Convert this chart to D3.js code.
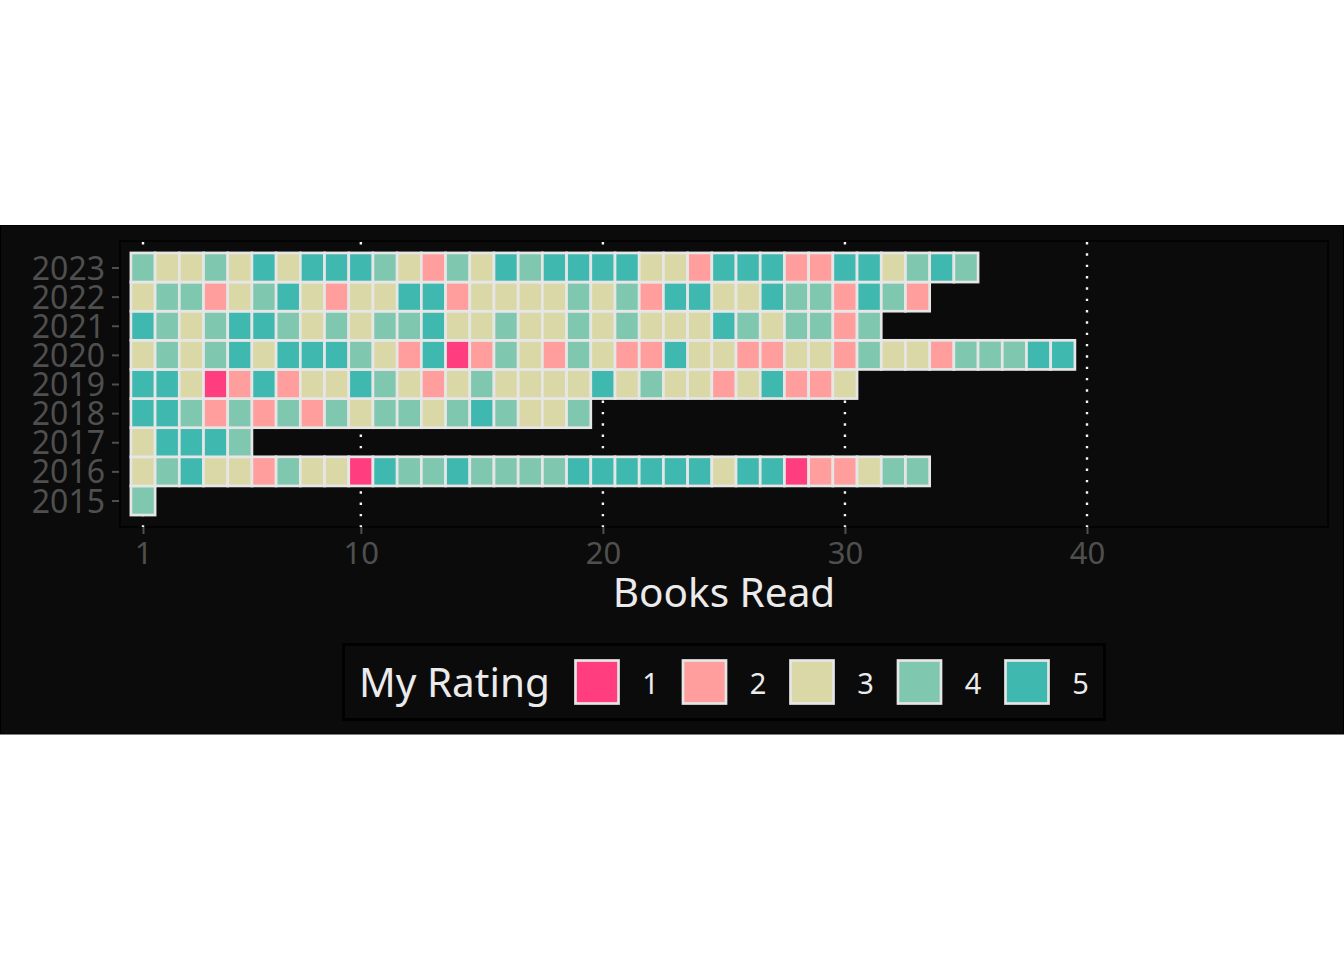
<!DOCTYPE html>
<html>
<head>
<meta charset="utf-8">
<script src="https://cdn.jsdelivr.net/npm/d3@7"></script>
<style>
  html, body { margin: 0; padding: 0; background: #ffffff; }
  svg { display: block; }
  text { font-family: "Noto Sans", "Open Sans", sans-serif; }
</style>
</head>
<body>
<svg id="chart" width="1344" height="960"></svg>
<script>
// ---- data ----
const years = [2015, 2016, 2017, 2018, 2019, 2020, 2021, 2022, 2023];
const ratings2015 = [4];
const ratings2016 = [3,4,5,3,3,2,4,3,3,1,5,4,4,5,4,4,4,4,5,5,5,5,5,5,3,5,5,1,2,2,3,4,4];
const ratings2017 = [3,5,5,5,4];
const ratings2018 = [5,5,4,2,4,2,4,2,4,3,4,4,3,4,5,4,3,3,4];
const ratings2019 = [5,5,3,1,2,5,2,3,3,5,4,3,2,3,4,3,3,3,3,5,3,4,3,3,2,3,5,2,2,3];
const ratings2020 = [3,4,3,4,5,3,5,5,5,4,3,2,5,1,2,4,3,2,4,3,2,2,5,3,3,2,2,3,3,2,4,3,3,2,4,4,4,5,5];
const ratings2021 = [5,4,3,4,5,5,4,3,4,3,4,4,5,3,3,4,3,3,4,3,4,3,3,3,5,4,3,4,4,2,4];
const ratings2022 = [3,4,4,2,3,4,5,3,2,3,3,5,5,2,3,3,3,3,4,3,4,2,5,5,3,3,5,4,4,2,5,4,2];
const ratings2023 = [4,3,3,4,3,5,3,5,5,5,4,3,2,4,3,5,4,5,5,5,5,3,3,2,5,5,5,2,2,5,5,3,4,5,4];
const ratingsByYear = [ratings2015, ratings2016, ratings2017, ratings2018, ratings2019,
                       ratings2020, ratings2021, ratings2022, ratings2023];
const ratingLevels = [1, 2, 3, 4, 5];
const ratingColors = ["#FF3D7F", "#FF9E9D", "#DAD8A7", "#7FC7AF", "#3FB8AF"];
const xTicks = [1, 10, 20, 30, 40];
const xTitle = "Books Read";
const legendTitle = "My Rating";

// ---- build tile table ----
const tiles = [];
years.forEach((yr, i) => {
  ratingsByYear[i].forEach((r, j) => tiles.push({ year: yr, book: j + 1, rating: r }));
});

// ---- layout ----
const svg = d3.select("#chart");
const panel = { left: 120, right: 1328, top: 241, bottom: 527 };
const x = d3.scaleLinear().domain([1, 40]).range([143, 1087]);
const y = d3.scaleLinear().domain([2015, 2023]).range([500.5, 267.5]);
const color = d3.scaleOrdinal().domain(ratingLevels).range(ratingColors);
const tileW = x(2) - x(1);
const tileH = y(2015) - y(2016);

const ink = "#4f4f4f";
const light = "#ebebeb";

// plot background band
svg.append("rect")
  .attr("x", 0.5).attr("y", 225.5).attr("width", 1343).attr("height", 508.5)
  .attr("fill", "#0b0b0b").attr("stroke", "#000").attr("stroke-width", 1);

// panel border
svg.append("rect")
  .attr("x", panel.left).attr("y", panel.top)
  .attr("width", panel.right - panel.left).attr("height", panel.bottom - panel.top)
  .attr("fill", "#0b0b0b").attr("stroke", "#000").attr("stroke-width", 1.4);

// dotted gridlines
svg.append("g").selectAll("line").data(xTicks).join("line")
  .attr("x1", d => x(d)).attr("x2", d => x(d))
  .attr("y1", panel.top + 1).attr("y2", panel.bottom)
  .attr("stroke", "#f5f5f5").attr("stroke-width", 2.4)
  .attr("stroke-dasharray", "2.4 8.93");

// tiles
svg.append("g").selectAll("rect").data(tiles).join("rect")
  .attr("x", d => x(d.book) - tileW / 2)
  .attr("y", d => y(d.year) - tileH / 2)
  .attr("width", tileW).attr("height", tileH)
  .attr("fill", d => color(d.rating))
  .attr("stroke", "#e6e6e6").attr("stroke-width", 2.7);

// y axis
const yAxis = svg.append("g").attr("transform", "translate(119,0)")
  .call(d3.axisLeft(y).tickValues(years).tickFormat(d3.format("d")).tickSize(7).tickPadding(7));
yAxis.select(".domain").remove();
yAxis.selectAll(".tick line").attr("stroke", ink).attr("stroke-width", 2);
yAxis.selectAll(".tick text").attr("fill", ink).attr("font-size", 32)
  .attr("dy", "0.36em").style("font-family", '"Noto Sans", sans-serif');

// x axis
const xAxis = svg.append("g").attr("transform", `translate(0,${panel.bottom})`)
  .call(d3.axisBottom(x).tickValues(xTicks).tickFormat(d3.format("d")).tickSize(7).tickPadding(7.5));
xAxis.select(".domain").remove();
xAxis.selectAll(".tick line").attr("stroke", ink).attr("stroke-width", 2);
xAxis.selectAll(".tick text").attr("fill", ink).attr("font-size", 31)
  .style("font-family", '"Noto Sans", sans-serif');

// x title
svg.append("text")
  .attr("x", (panel.left + panel.right) / 2).attr("y", 607)
  .attr("text-anchor", "middle").attr("fill", light).attr("font-size", 40.5)
  .text(xTitle);

// legend
const lg = svg.append("g");
lg.append("rect")
  .attr("x", 343.5).attr("y", 644.5).attr("width", 761).attr("height", 75)
  .attr("fill", "#0b0b0b").attr("stroke", "#000").attr("stroke-width", 2.7);
lg.append("text")
  .attr("x", 359).attr("y", 697).attr("fill", light).attr("font-size", 40.5)
  .text(legendTitle);
const lx = d3.scaleLinear().domain([1, 5]).range([575.5, 1005.5]);
lg.selectAll("rect.key").data(ratingLevels).join("rect").attr("class", "key")
  .attr("x", d => lx(d)).attr("y", 660.5).attr("width", 43).attr("height", 43)
  .attr("fill", d => color(d)).attr("stroke", "#e6e6e6").attr("stroke-width", 2.7);
lg.selectAll("text.lab").data(ratingLevels).join("text").attr("class", "lab")
  .attr("x", d => lx(d) + 75).attr("y", 693.5)
  .attr("text-anchor", "middle").attr("fill", light).attr("font-size", 29)
  .text(d => d);
</script>
</body>
</html>
